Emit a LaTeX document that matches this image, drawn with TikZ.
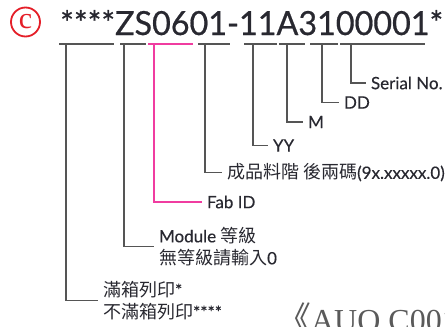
\documentclass[tikz,border=0pt]{standalone}
\usepackage{fontspec}
\setmainfont{Lato}
\newfontfamily\codefont[FakeBold=0.6]{Lato}
\newfontfamily\lblfont[FakeBold=0.3]{Lato}
\newfontfamily\cjk[Scale=1.06]{Noto Sans CJK TC}
\newfontfamily\auofont{Liberation Serif}
\usepackage{xcolor}
\usepackage{tikz}
\usetikzlibrary{positioning}

\definecolor{codeink}{RGB}{40,40,48}
\definecolor{ruleline}{RGB}{85,85,85}
\definecolor{fabpink}{RGB}{240,60,160}
\definecolor{markred}{RGB}{228,30,40}
\definecolor{auogray}{RGB}{90,90,90}

\begin{document}
\begin{tikzpicture}[x=1pt, y=-1pt,
  rule/.style={draw=ruleline, line width=1.2pt},
  fab/.style={draw=fabpink, line width=1.2pt},
  lbl/.style={anchor=west, inner sep=0pt, outer sep=5pt, text=codeink,
    font=\lblfont\fontsize{17}{22}\selectfont, align=left}]

\useasboundingbox (0,0) rectangle (445,327);
\clip (0,0) rectangle (445,327);

% Circled mark
\node[circle, draw=markred, line width=1.8pt, minimum size=29pt, inner sep=0pt,
  text=markred, font=\auofont\fontsize{30}{30}\selectfont] (mark) at (25.5,22) {c};

% Barcode text
\node[anchor=base west, inner sep=0pt, text=codeink, font=\codefont] (code) at (60,35)
  {\resizebox{383pt}{25pt}{****ZS0601-11A3100001*}};

% Underlines
\draw[rule] (59,44) -- (114,44);
\draw[rule] (120,44) -- (146,44);
\draw[fab] (148,44) -- (193,44);
\draw[rule] (198,44) -- (230,44);
\draw[rule] (244,44) -- (277,44);
\draw[rule] (279,44) -- (305,44);
\draw[rule] (310,44) -- (338,44);
\draw[rule] (340,44) -- (425,44);

% Tick points
\coordinate (tFull) at (66,44);
\coordinate (tModule) at (124,44);
\coordinate (tFab) at (154,44);
\coordinate (tPart) at (205,44);
\coordinate (tYY) at (253,44);
\coordinate (tM) at (287,44);
\coordinate (tDD) at (322,44);
\coordinate (tSerial) at (351,44);

% Labels
\node[lbl] (lSerial) at (366,83) {Serial No.};
\node[lbl] (lDD) at (339,102.5) {DD};
\node[lbl] (lM) at (303,122) {M};
\node[lbl] (lYY) at (268,145.5) {YY};
\node[lbl] (lPart) at (222,172.5) {{\cjk 成品料階 後兩碼}(9x.xxxxx.0)};
\node[lbl] (lFab) at (202,202) {Fab ID};
\node[lbl] (lModule) at (154,246.5) {Module {\cjk 等級}\\{\cjk 無等級請輸入}0};
\node[lbl] (lFull) at (98,300.5) {{\cjk 滿箱列印}*\\{\cjk 不滿箱列印}****};

% Leaders
\draw[rule] (tSerial) |- (lSerial.west);
\draw[rule] (tDD) |- (lDD.west);
\draw[rule] (tM) |- (lM.west);
\draw[rule] (tYY) |- (lYY.west);
\draw[rule] (tPart) |- (lPart.west);
\draw[fab] (tFab) |- (lFab.west);
\draw[rule] (tModule) |- (lModule.west);
\draw[rule] (tFull) |- (lFull.west);

% Caption (cut by the edge)
\node[anchor=base west, inner sep=0pt, text=auogray, font=\auofont\fontsize{32}{32}\selectfont]
  (auo) at (277,331) {{\cjk 《}AUO C001{\cjk 》}};

\end{tikzpicture}
\end{document}
